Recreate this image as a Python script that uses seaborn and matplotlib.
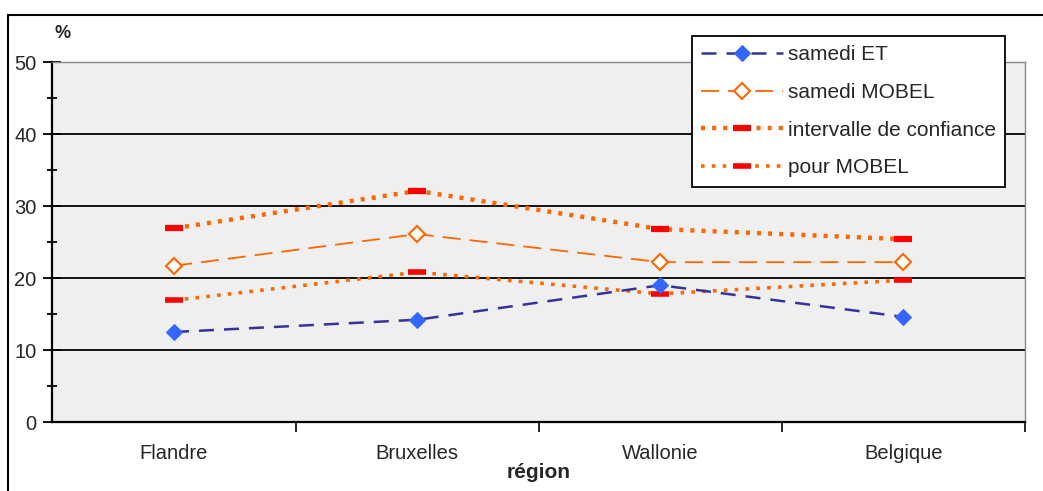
import matplotlib
matplotlib.use("Agg")
import matplotlib.pyplot as plt
from matplotlib.patches import Rectangle
from matplotlib.ticker import MultipleLocator, FixedLocator
import pandas as pd
import seaborn as sns

regions = ["Flandre", "Bruxelles", "Wallonie", "Belgique"]
samedi_et = [12.5, 14.2, 19.0, 14.6]
samedi_mobel = [21.7, 26.1, 22.2, 22.2]
ic_haut = [26.9, 32.1, 26.8, 25.4]
ic_bas = [16.9, 20.8, 17.8, 19.7]

sns.set_theme(style="white")
plt.rcParams["font.family"] = ["Liberation Sans", "DejaVu Sans"]

fig = plt.figure(figsize=(10.43, 4.91), dpi=100)
ax = fig.add_axes([0.0503, 0.1405, 0.9324, 0.7332])
ax.set_facecolor("#efefef")

pos = list(range(len(regions)))
df = pd.DataFrame({"pos": pos, "et": samedi_et, "mobel": samedi_mobel,
                   "haut": ic_haut, "bas": ic_bas})

sns.lineplot(data=df, x="pos", y="haut", ax=ax, color="#ff6600", lw=3.2,
             linestyle=(0, (0.9, 1.6)), marker="_", markersize=13,
             markeredgewidth=4.5, markeredgecolor="#ff0000",
             label="intervalle de confiance", zorder=3)
sns.lineplot(data=df, x="pos", y="bas", ax=ax, color="#ff6600", lw=2.6,
             linestyle=(0, (1.0, 2.0)), marker="_", markersize=13,
             markeredgewidth=4.0, markeredgecolor="#ff0000",
             label="pour MOBEL", zorder=3)
sns.lineplot(data=df, x="pos", y="mobel", ax=ax, color="#ff6600", lw=1.3,
             linestyle=(0, (10, 5)), marker="D", markersize=8,
             markerfacecolor="white", markeredgecolor="#ff6600",
             markeredgewidth=1.5, label="samedi MOBEL", zorder=4)
sns.lineplot(data=df, x="pos", y="et", ax=ax, color="#333399", lw=1.8,
             linestyle=(0, (6, 4)), marker="D", markersize=8,
             markerfacecolor="#3366ff", markeredgecolor="#3366ff",
             label="samedi ET", zorder=5)

handles, labels = ax.get_legend_handles_labels()
ax.get_legend().remove()

ax.set_xlim(-0.5, len(regions) - 0.5)
ax.set_ylim(0, 50)

# y axis: major every 10, minor every 5, ticks crossing the axis
ax.yaxis.set_major_locator(MultipleLocator(10))
ax.yaxis.set_minor_locator(MultipleLocator(5))
ax.tick_params(axis="y", which="major", direction="inout", length=13, width=1.3,
               color="black", labelsize=14.5, pad=5, left=True)
ax.tick_params(axis="y", which="minor", direction="inout", length=7, width=1.3,
               color="black", left=True)

# x axis: labels at category centres, ticks at category boundaries
ax.set_xticks(pos)
ax.set_xticklabels(regions)
ax.xaxis.set_minor_locator(FixedLocator([p + 0.5 for p in pos]))
ax.tick_params(axis="x", which="major", length=0, labelsize=14.5, pad=16)
ax.tick_params(axis="x", which="minor", direction="out", length=7, width=1.2,
               color="black", bottom=True)

for y in [10, 20, 30, 40]:
    ax.axhline(y, color="black", lw=1.3, zorder=1)

for side in ["left", "bottom"]:
    ax.spines[side].set_color("black")
    ax.spines[side].set_linewidth(1.6)
for side in ["top", "right"]:
    ax.spines[side].set_color("#888888")
    ax.spines[side].set_linewidth(1.0)

ax.set_xlabel("région", fontsize=15, fontweight="bold", labelpad=0)
ax.set_ylabel("")
ax.text(0.06, 0.932, "%", transform=fig.transFigure, fontsize=13,
        fontweight="bold", ha="center", va="center")

order = ["samedi ET", "samedi MOBEL", "intervalle de confiance", "pour MOBEL"]
hmap = dict(zip(labels, handles))
leg = fig.legend([hmap[k] for k in order], order,
                 loc="upper left", bbox_to_anchor=(0.6635, 0.927),
                 frameon=True, fancybox=False, edgecolor="black",
                 facecolor="white", framealpha=1, fontsize=15,
                 handlelength=3.9, handletextpad=0.25, labelspacing=0.9,
                 borderpad=0.45, borderaxespad=0)
leg.get_frame().set_linewidth(1.3)
leg.set_zorder(10)

fig.patches.append(Rectangle((0.0077, -0.05), 1.2, 1.0194,
                             transform=fig.transFigure, fill=False,
                             edgecolor="black", lw=1.5))

fig.savefig("out.png", dpi=100, facecolor="white")
